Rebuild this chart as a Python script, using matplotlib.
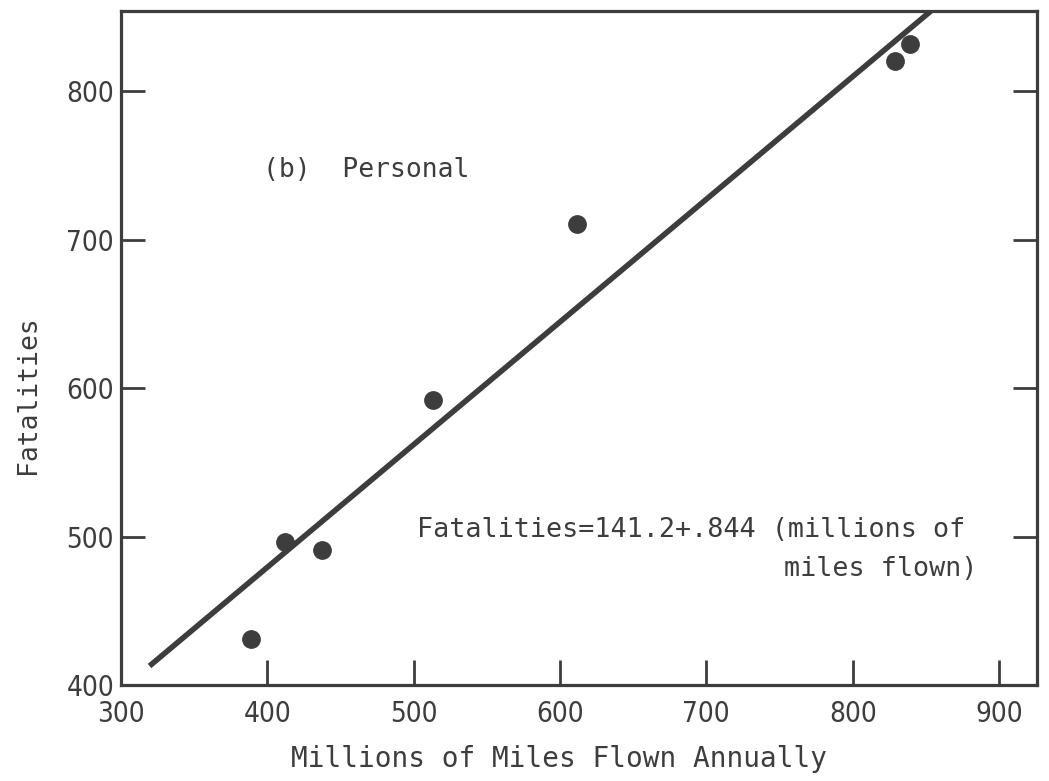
import os
import matplotlib
matplotlib.use("Agg")
import matplotlib.pyplot as plt
from matplotlib import font_manager

# ---- data ----
miles = [389, 412, 437.5, 513, 611.6, 828.7, 839]
fatalities = [431, 496, 490.6, 592, 710.7, 820, 831.5]
fit_x = [319.5, 853.5]
fit_y = [412.8, 854.0]
xticks = [300, 400, 500, 600, 700, 800, 900]
yticks = [400, 500, 600, 700, 800]
panel_label = "(b)  Personal"
eq_line1 = "Fatalities=141.2+.844 (millions of"
eq_line2 = "miles flown)"
xlabel = "Millions of Miles Flown Annually"
ylabel = "Fatalities"

ink = "#3d3d3d"
fonts = font_manager.fontManager.ttflist
names = {f.name for f in fonts}
condensed = [f for f in fonts if os.path.basename(f.fname) == "DejaVuSansCondensed.ttf"]
if "Liberation Sans Narrow" in names:
    tick_fp = font_manager.FontProperties(family="Liberation Sans Narrow", size=21)
elif condensed:
    tick_fp = font_manager.FontProperties(fname=condensed[0].fname, size=20)
else:
    tick_fp = font_manager.FontProperties(family="Roboto", size=20)
mono = "DejaVu Sans Mono"

fig = plt.figure(figsize=(10.49, 7.81), dpi=100)
ax = fig.add_axes([121 / 1049, 1 - 685 / 781, 916 / 1049, 674 / 781])

ax.plot(fit_x, fit_y, color=ink, lw=4.0, solid_capstyle="butt", zorder=2)
ax.plot(miles, fatalities, "o", color=ink, ms=12.5, mec=ink, zorder=3)

ax.set_xlim(300, 926)
ax.set_ylim(400, 854)
ax.set_xticks(xticks)
ax.set_yticks(yticks)

for s in ax.spines.values():
    s.set_color(ink)
    s.set_linewidth(2.3)

ax.tick_params(axis="x", direction="in", length=18, width=2.0, color=ink,
               pad=11, labelcolor=ink, top=False)
ax.tick_params(axis="y", direction="in", length=17, width=2.0, color=ink,
               pad=5, labelcolor=ink, right=True)
for lab in ax.get_xticklabels() + ax.get_yticklabels():
    lab.set_fontproperties(tick_fp)

ax.set_xlabel(xlabel, fontsize=20, family=mono, color=ink, va="baseline")
ax.xaxis.set_label_coords((559 - 121) / 916, (685 - 767) / 674)
ax.set_ylabel(ylabel, fontsize=19, family=mono, color=ink, ha="center", va="center")
ax.yaxis.set_label_coords((28 - 121) / 916, (685 - 395) / 674)

ax.text((263 - 121) / 916, (685 - 177) / 674, panel_label, transform=ax.transAxes,
        fontsize=19, family=mono, color=ink, ha="left", va="baseline")
ax.text((417 - 121) / 916, (685 - 537) / 674, eq_line1, transform=ax.transAxes,
        fontsize=19.3, family=mono, color=ink, ha="left", va="baseline")
ax.text((978 - 121) / 916, (685 - 576) / 674, eq_line2, transform=ax.transAxes,
        fontsize=19.3, family=mono, color=ink, ha="right", va="baseline")

fig.savefig("out.png", dpi=100)
